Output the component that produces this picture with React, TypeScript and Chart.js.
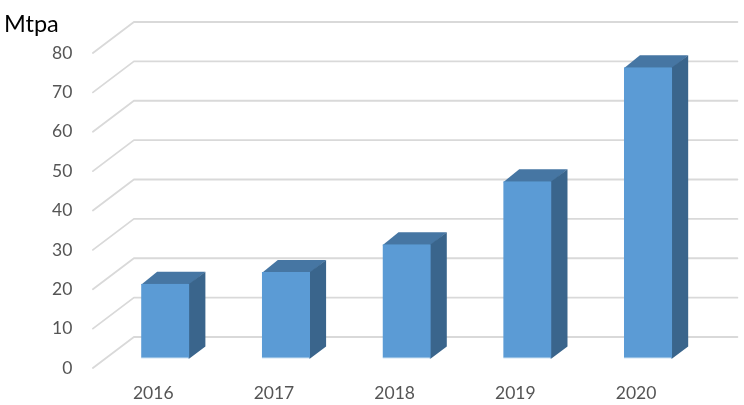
import React, { useEffect, useRef } from "react";
import { Chart, registerables } from "chart.js";

Chart.register(...registerables);

const categories = ["2016", "2017", "2018", "2019", "2020"];
const capacityMtpa = [19, 22, 29, 45, 74];
const yTicks = [0, 10, 20, 30, 40, 50, 60, 70, 80];
const unitLabel = "Mtpa";

const FONT = "Lato, Carlito, Calibri, sans-serif";
const WALL_DX = 41;
const WALL_DY = -31;
const BAR_DX = 12;
const BAR_DY = -9.5;
const BAR_DEPTH_X = 16;
const BAR_DEPTH_Y = -12;

const bar3d = {
  id: "bar3d",
  beforeDatasetsDraw(chart: any) {
    const { ctx, scales, chartArea } = chart;
    const y = scales.y;
    // walls
    ctx.save();
    ctx.lineCap = "round";
    ctx.lineJoin = "round";
    ctx.strokeStyle = "#d9d9d9";
    ctx.lineWidth = 1.8;
    yTicks.forEach((v) => {
      const py = y.getPixelForValue(v);
      ctx.beginPath();
      ctx.moveTo(chartArea.left, py);
      ctx.lineTo(chartArea.left + WALL_DX, py + WALL_DY);
      ctx.lineTo(chartArea.right + WALL_DX, py + WALL_DY);
      ctx.stroke();
    });
    ctx.restore();

    // bar side and top faces, tucked slightly under the front face
    ctx.save();
    ctx.translate(BAR_DX, BAR_DY);
    chart.getDatasetMeta(0).data.forEach((bar: any) => {
      const { x, y: top, base, width } = bar.getProps(["x", "y", "base", "width"], true);
      const l = x - width / 2;
      const r = x + width / 2;
      ctx.fillStyle = "#4676a3";
      ctx.beginPath();
      ctx.moveTo(l, top + 1);
      ctx.lineTo(l + BAR_DEPTH_X, top + BAR_DEPTH_Y);
      ctx.lineTo(r + BAR_DEPTH_X, top + BAR_DEPTH_Y);
      ctx.lineTo(r, top + 1);
      ctx.closePath();
      ctx.fill();
      ctx.fillStyle = "#3a658c";
      ctx.beginPath();
      ctx.moveTo(r - 1, top);
      ctx.lineTo(r, top);
      ctx.lineTo(r + BAR_DEPTH_X, top + BAR_DEPTH_Y);
      ctx.lineTo(r + BAR_DEPTH_X, base + BAR_DEPTH_Y);
      ctx.lineTo(r, base);
      ctx.lineTo(r - 1, base);
      ctx.closePath();
      ctx.fill();
    });
    ctx.restore();

    // front faces are drawn by the library, shifted to mid-depth
    ctx.save();
    ctx.translate(BAR_DX, BAR_DY);
  },
  afterDatasetsDraw(chart: any) {
    const { ctx } = chart;
    ctx.restore();
    ctx.save();
    ctx.fillStyle = "#000000";
    ctx.font = `23.5px ${FONT}`;
    ctx.textAlign = "left";
    ctx.textBaseline = "middle";
    ctx.fillText(unitLabel, 4, 24);
    ctx.restore();
  },
};

export default function App() {
  const ref = useRef<HTMLCanvasElement>(null);

  useEffect(() => {
    if (!ref.current) return;
    const chart = new Chart(ref.current, {
      type: "bar",
      data: {
        labels: categories,
        datasets: [
          {
            label: unitLabel,
            data: capacityMtpa,
            backgroundColor: "#5b9bd5",
            borderColor: "#9dc3e6",
            borderWidth: { bottom: 1, top: 0, left: 0, right: 0 },
            borderSkipped: false,
            barPercentage: 0.4,
            categoryPercentage: 1,
            clip: false,
          } as any,
        ],
      },
      options: {
        responsive: false,
        animation: false,
        events: [],
        layout: { padding: { top: 53, right: 47.6, left: 0, bottom: 0 } },
        plugins: { legend: { display: false }, tooltip: { enabled: false }, title: { display: false } },
        scales: {
          x: {
            grid: { display: false, drawTicks: false },
            border: { display: false },
            ticks: { color: "#555555", font: { family: FONT, size: 17.5 }, padding: 15, maxRotation: 0 },
            afterFit(scale: any) {
              scale.height = 37;
            },
          },
          y: {
            min: 0,
            max: 80,
            grid: { display: false, drawTicks: false },
            border: { display: false },
            ticks: {
              stepSize: 10,
              color: "#555555",
              font: { family: FONT, size: 17.5 },
              padding: 20.5,
            },
            afterFit(scale: any) {
              scale.width = 92.9;
            },
          },
        },
      },
      plugins: [bar3d],
    });
    return () => chart.destroy();
  }, []);

  return (
    <div style={{ position: "absolute", left: 0, top: 0, width: 744, height: 405, background: "#ffffff" }}>
      <canvas ref={ref} width={744} height={405} style={{ display: "block" }} />
    </div>
  );
}
